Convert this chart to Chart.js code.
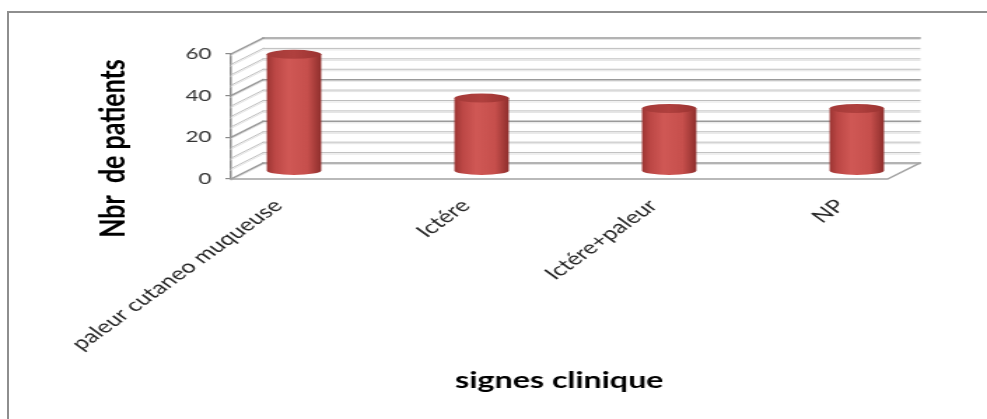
<!DOCTYPE html>
<html>
<head>
<meta charset="utf-8">
<script src="https://cdn.jsdelivr.net/npm/chart.js@4.4.0/dist/chart.umd.min.js"></script>
<style>
  html, body { margin: 0; padding: 0; background: #fff; overflow: hidden; width: 987px; height: 419px; }
  .frame { position: absolute; left: 7px; top: 11px; width: 1200px; height: 600px;
           border-left: 2px solid #8e8e8e; border-top: 2px solid #8e8e8e; }
  /* the reference is stretched sideways, so draw narrow and stretch the canvas */
  .stretch { position: absolute; left: 0; top: 0; width: 705px; height: 419px;
             transform: scaleX(1.4); transform-origin: 0 0; }
</style>
</head>
<body>
<div class="frame"></div>
<div class="stretch"><canvas id="chart" width="705" height="419"></canvas></div>
<script>
// data
const categories = ['paleur cutaneo muqueuse', 'Ictére', 'Ictére+paleur', 'NP'];
const patients   = [56, 35, 30, 30];
const yTicks     = [0, 20, 40, 60];
const xTitle = 'signes clinique';
const yTitle = 'Nbr  de patients';

// 3D look
const DX = 23, DY = 16;      // back wall offset
const WALL_STEP = 5;         // minor wall lines

function seg(ctx, x1, y1, x2, y2) {
    ctx.beginPath(); ctx.moveTo(x1, y1); ctx.lineTo(x2, y2); ctx.stroke();
}

const box3d = {
    id: 'box3d',
    beforeDatasetsDraw(chart) {
        const { ctx, chartArea: a, scales: { y } } = chart;
        const y0 = y.getPixelForValue(0);
        ctx.save();
        ctx.lineCap = 'square';
        for (let v = 0; v <= y.max; v += WALL_STEP) {
            const py = y.getPixelForValue(v);
            const major = yTicks.includes(v);
            // soft shadow line under each wall line
            ctx.strokeStyle = '#e3e3e3'; ctx.lineWidth = 1;
            seg(ctx, a.left, py + 1.5, a.left + DX, py - DY + 1.5);
            seg(ctx, a.left + DX, py - DY + 1.5, a.right + DX, py - DY + 1.5);
            ctx.strokeStyle = major ? '#9a9a9a' : '#bdbdbd';
            ctx.lineWidth = major ? 1.5 : 1;
            seg(ctx, a.left, py, a.left + DX, py - DY);
            seg(ctx, a.left + DX, py - DY, a.right + DX, py - DY);
        }
        // floor
        ctx.strokeStyle = '#a3a3a3'; ctx.lineWidth = 1.5;
        ctx.beginPath();
        ctx.moveTo(a.left, y0);
        ctx.lineTo(a.right, y0);
        ctx.lineTo(a.right + DX, y0 - DY);
        ctx.stroke();
        ctx.restore();
    },
    afterDatasetsDraw(chart) {
        const { ctx } = chart;
        const meta = chart.getDatasetMeta(0);
        ctx.save();
        meta.data.forEach(bar => {
            const cx = bar.x + DX / 2, rx = bar.width / 2, ry = 4.5;
            const top = bar.y - DY / 2, base = bar.base - DY / 2;
            const g = ctx.createLinearGradient(cx - rx, 0, cx + rx, 0);
            g.addColorStop(0, '#9c3533');
            g.addColorStop(0.15, '#bc4745');
            g.addColorStop(0.4, '#d05855');
            g.addColorStop(0.75, '#c64f4c');
            g.addColorStop(1, '#8e2e2c');
            ctx.fillStyle = g;
            ctx.beginPath();
            ctx.moveTo(cx - rx, top);
            ctx.lineTo(cx - rx, base);
            ctx.ellipse(cx, base, rx, ry, 0, Math.PI, 0, true);
            ctx.lineTo(cx + rx, top);
            ctx.closePath();
            ctx.fill();
            const t = ctx.createLinearGradient(cx - rx, 0, cx + rx, 0);
            t.addColorStop(0, '#a43a38');
            t.addColorStop(0.5, '#b0403e');
            t.addColorStop(1, '#9a3331');
            ctx.fillStyle = t;
            ctx.beginPath();
            ctx.ellipse(cx, top, rx, ry, 0, 0, Math.PI * 2);
            ctx.fill();
        });
        ctx.restore();
    },
    afterDraw(chart) {
        const { ctx, chartArea: a, scales: { y } } = chart;
        ctx.save();
        ctx.translate(y.left + 31, (a.top + a.bottom) / 2 + 32);
        ctx.rotate(-Math.PI / 2);
        ctx.font = 'bold 25px Lato';
        ctx.fillStyle = '#000';
        ctx.textAlign = 'center';
        ctx.textBaseline = 'middle';
        ctx.fillText(yTitle, 0, 0);
        ctx.restore();
    }
};

new Chart(document.getElementById('chart'), {
    type: 'bar',
    data: {
        datasets: [{
            data: patients.map((v, i) => ({ x: i, y: v })),
            backgroundColor: 'rgba(0,0,0,0)',
            borderWidth: 0,
            barPercentage: 0.29,
            categoryPercentage: 1
        }]
    },
    options: {
        responsive: false,
        animation: false,
        events: [],
        layout: { padding: { top: 54, left: 50, right: 71, bottom: 10 } },
        plugins: { legend: { display: false }, tooltip: { enabled: false } },
        scales: {
            x: {
                type: 'linear',
                offset: false,
                min: -0.25, max: 3.25,
                grid: { display: false },
                border: { display: false },
                afterFit: s => { s.height = 230; },
                afterBuildTicks: s => { s.ticks = categories.map((c, i) => ({ value: i })); },
                ticks: {
                    autoSkip: false,
                    minRotation: 45, maxRotation: 45,
                    padding: 8,
                    color: '#262626',
                    font: { family: 'Lato', size: 18 },
                    callback: v => categories[v]
                },
                title: {
                    display: true, text: xTitle, color: '#000',
                    font: { family: 'Lato', size: 23, weight: 'bold' },
                    padding: { top: 0, bottom: 15 }
                }
            },
            y: {
                min: 0, max: 60,
                afterFit: s => { s.width = 115; },
                afterBuildTicks: s => { s.ticks = yTicks.map(v => ({ value: v })); },
                grid: { drawOnChartArea: false, tickLength: 4, color: '#8a8a8a', lineWidth: 1.2 },
                border: { display: true, color: '#8a8a8a', width: 1.5 },
                ticks: { padding: 10, color: '#333', font: { family: 'Lato', size: 16 } }
            }
        }
    },
    plugins: [box3d]
});
</script>
</body>
</html>
